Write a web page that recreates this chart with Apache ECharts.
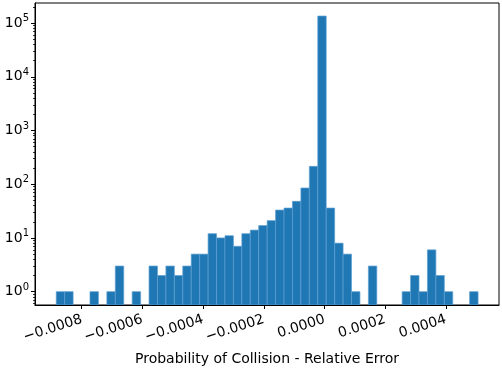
<!DOCTYPE html>
<html>
<head>
<meta charset="utf-8">
<script src="https://cdn.jsdelivr.net/npm/echarts@6/dist/echarts.min.js"></script>
<style>html,body{margin:0;padding:0;background:#fff;}#c{width:502px;height:368px;}</style>
</head>
<body>
<div id="c"></div>
<script>
// Histogram: 50 bins from binStart to binEnd
const binStart = -0.000884;
const binEnd = 0.000506;
const counts = [1,1,0,0,1,0,1,3,0,1,
                0,3,2,3,2,3,5,5,12,10,
                11,7,12,14,17,21,33,36,48,85,
                215,135000,36,8,5,1,0,3,0,0,
                0,1,2,1,6,2,1,0,0,1];
const xTicks = [-0.0008,-0.0006,-0.0004,-0.0002,0.0000,0.0002,0.0004];
const yTicks = [1,10,100,1000,10000,100000];
const xTitle = 'Probability of Collision - Relative Error';

const xMin = -0.000954, xMax = 0.000575;
const yMin = 0.565, yMax = 236000;

const nb = counts.length;
const w = (binEnd - binStart) / nb;
const barData = [];
counts.forEach((c, i) => { if (c > 0) barData.push([binStart + i*w, binStart + (i+1)*w, c]); });

const minorTicks = [];
for (let e = -1; e <= 5; e++) for (let m = 2; m <= 9; m++) { const v = m*Math.pow(10,e); if (v>yMin && v<yMax) minorTicks.push(v); }

const font = 'DejaVu Sans';
const fs = 14;
const chart = echarts.init(document.getElementById('c'), null, {renderer:'canvas'});
chart.setOption({
  animation: false,
  grid: {left: 35, right: 3, top: 3, bottom: 63, show: true, borderColor: '#000', borderWidth: 1,
         backgroundColor: 'transparent', containLabel: false, outerBoundsMode: 'none'},
  xAxis: {
    type: 'value', min: xMin, max: xMax,
    axisLine: {show: true, onZero: false, lineStyle: {color: '#000', width: 1}},
    splitLine: {show: false},
    axisTick: {show: true, customValues: xTicks, length: 4, lineStyle: {color: '#000'}},
    axisLabel: {customValues: xTicks, rotate: 18, margin: 14, color: '#000', fontFamily: font, fontSize: fs,
      padding: [0, 0, 0, 0],
      formatter: v => { const s = Math.abs(v).toFixed(4); return (v < -1e-12 ? '\u2212' : '') + s; }},
    name: xTitle, nameLocation: 'middle', nameGap: 47,
    nameTextStyle: {color: '#000', fontFamily: font, fontSize: fs}
  },
  yAxis: [{
    type: 'log', logBase: 10, min: yMin, max: yMax,
    axisLine: {show: true, onZero: false, lineStyle: {color: '#000', width: 1}},
    splitLine: {show: false},
    axisTick: {show: true, customValues: yTicks, length: 4, lineStyle: {color: '#000'}},
    axisLabel: {customValues: yTicks, margin: 6, color: '#000', fontFamily: font, fontSize: fs,
      formatter: v => '{b|10}{s|' + Math.round(Math.log10(v)) + '}',
      rich: {b: {fontSize: fs, fontFamily: font, color: '#000'}, s: {fontSize: 10, fontFamily: font, color: '#000', padding: [0,0,9,0]}}}
  },{
    type: 'log', logBase: 10, min: yMin, max: yMax, position: 'left',
    axisLine: {show: false, onZero: false}, splitLine: {show: false},
    axisTick: {show: true, customValues: minorTicks, length: 2, lineStyle: {color: '#000', width: 0.8}},
    axisLabel: {show: false}
  }],
  series: [{
    type: 'custom',
    data: barData,
    encode: {x: [0,1], y: 2},
    renderItem: (params, api) => {
      const p0 = api.coord([api.value(0), api.value(2)]);
      const p1 = api.coord([api.value(1), yMin]);
      return {type: 'rect', shape: {x: p0[0], y: p0[1], width: p1[0]-p0[0], height: p1[1]-p0[1]},
        style: {fill: '#1f77b4', stroke: '#5d9fd2', lineWidth: 0.7}};
    },
    clip: true
  }]
});
</script>
</body>
</html>
